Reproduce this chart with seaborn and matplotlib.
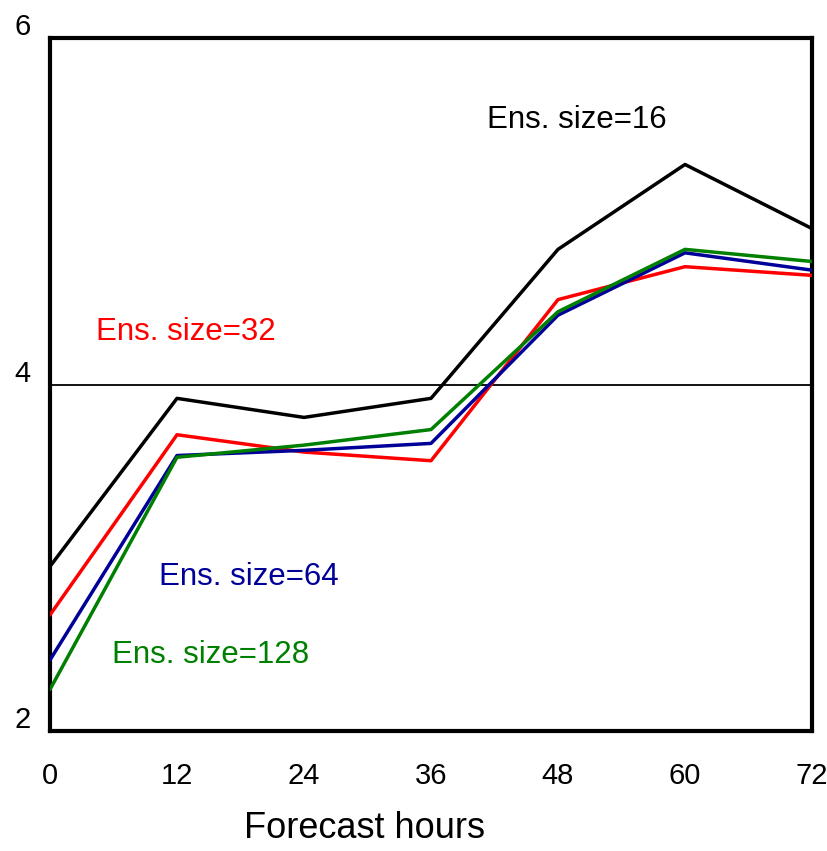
import matplotlib
matplotlib.use("Agg")
import matplotlib.pyplot as plt
import matplotlib.transforms as mtransforms
import numpy as np
import pandas as pd
import seaborn as sns

hours = [0, 12, 24, 36, 48, 60, 72]
ens16 = [2.95, 3.92, 3.81, 3.92, 4.78, 5.27, 4.90]
ens32 = [2.67, 3.71, 3.61, 3.56, 4.49, 4.68, 4.63]
ens64 = [2.41, 3.59, 3.62, 3.66, 4.40, 4.76, 4.66]
ens128 = [2.24, 3.58, 3.65, 3.74, 4.42, 4.78, 4.71]
series_names = ["Ens. size=16", "Ens. size=32", "Ens. size=64", "Ens. size=128"]
colors = ["#000000", "#ff0000", "#000099", "#008000"]

rows = []
for name, vals in zip(series_names, [ens16, ens32, ens64, ens128]):
    for h, v in zip(hours, vals):
        rows.append({"hour": h, "value": v, "series": name})
df = pd.DataFrame(rows)

sns.set_style("white")
plt.rcParams["font.family"] = ["Liberation Sans", "DejaVu Sans"]

fig = plt.figure(figsize=(8.27, 8.51), dpi=100)
ax = fig.add_axes([50/827, 1-731/851, (812-50)/827, (731-38)/851])

sns.lineplot(data=df, x="hour", y="value", hue="series", palette=colors,
             hue_order=series_names, linewidth=2.5, ax=ax, legend=False,
             zorder=3)

ax.axhline(4, color="black", linewidth=1.3, zorder=2)

ax.set_xlim(0, 72)
ax.set_ylim(2, 6)
ax.set_xticks(hours)
ax.set_yticks([2, 4, 6])
ax.set_xticklabels([str(h) for h in hours], fontsize=21, color="black")
ax.set_yticklabels(["2", "4", "6"], fontsize=21, color="black")
ax.tick_params(axis="x", direction="in", length=6, width=2.5, pad=22, color="black")
ax.tick_params(axis="y", length=0, pad=14)
offset = mtransforms.ScaledTranslation(0, 14/100, fig.dpi_scale_trans)
for lab in ax.get_yticklabels():
    lab.set_transform(lab.get_transform() + offset)

for sp in ax.spines.values():
    sp.set_visible(True)
    sp.set_linewidth(3)
    sp.set_color("black")

ax.set_xlabel("Forecast hours", fontsize=26, color="black")
ax.xaxis.set_label_coords((364-50)/762, -0.115)
ax.set_ylabel("")

label_pos = [(577, 120), (186, 332), (249, 577), (211, 655)]
for name, c, (px, py) in zip(series_names, colors, label_pos):
    x = (px - 50) / (812 - 50) * 72
    y = 2 + (731 - py) / 693 * 4
    ax.text(x, y, name, color=c, fontsize=22.5, ha="center", va="center")

fig.savefig("out.png", dpi=100)
